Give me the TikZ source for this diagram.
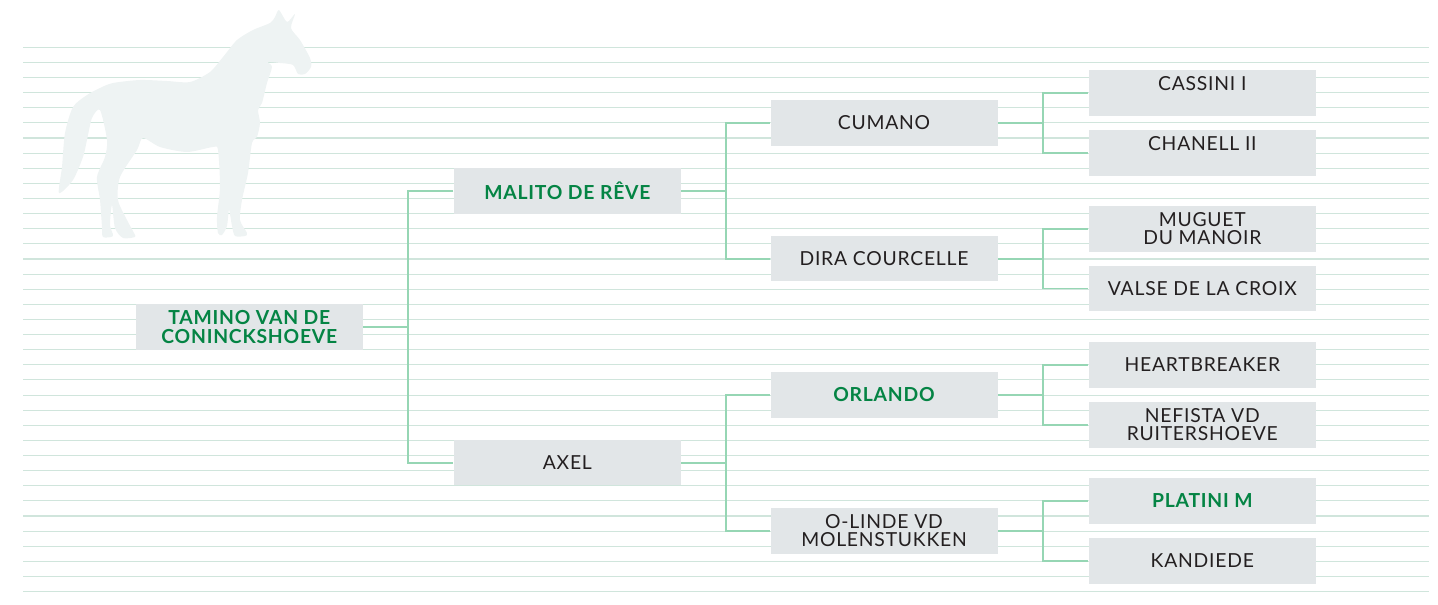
\documentclass[tikz,border=0pt]{standalone}
\usepackage{fontspec}
\setmainfont{Lato}[LetterSpace=4]

\definecolor{ruledgreen}{RGB}{208,229,220}
\definecolor{linkgreen}{RGB}{150,214,180}
\definecolor{boxgrey}{RGB}{226,230,232}
\definecolor{namegreen}{RGB}{4,132,68}
\definecolor{namedark}{RGB}{35,31,32}
\definecolor{horsegrey}{RGB}{238,243,243}

\tikzset{every picture/.style={line width=0.75pt}}
\tikzset{
  namebox/.style={fill=boxgrey, minimum width=170.25pt, minimum height=34.1pt, inner sep=0pt,
    align=center, text=namedark, font=\fontsize{14.5}{13.8}\selectfont},
  winner/.style={namebox, text=namegreen, font=\fontsize{14.5}{14.8}\selectfont\bfseries},
  connector/.style={draw=linkgreen, line width=1.25pt},
  ruled/.style={draw=ruledgreen, line width=0.8pt},
}

\begin{document}
\begin{tikzpicture}[x=0.75pt,y=0.75pt,yscale=-1,xscale=1]
\useasboundingbox (0,0) rectangle (1438,605);

%Ruled background
\foreach \k in {0,...,36}
  \draw [ruled] (23,47.3+15.12*\k) -- (1429,47.3+15.12*\k) ;

%Horse silhouette
\fill [horsegrey] plot [smooth cycle, tension=0.45] coordinates {
  (279,10) (287,22) (295,14) (291,28) (300,40) (310,58) (311,67) (305,74) (298,74)
  (293,65) (280,63) (268,62) (272,67) (267,83) (262,103) (258,110) (260,123)
  (257,137) (252,143) (248,173) (242,200) (240,220) (247,233) (245,236) (235,236)
  (232,226) (229,210) (227,226) (222,235) (218,233) (217,217) (220,187) (218,150)
  (213,147) (187,152) (160,147) (143,138) (137,150) (120,177) (118,200) (127,220)
  (134,233) (135,237) (123,238) (115,228) (112,205) (110,225) (113,236) (103,237)
  (102,227) (100,200) (97,177) (105,157) (107,140) (100,110) (92,118) (87,140)
  (83,157) (73,180) (59,193) (62,167) (65,133) (73,107) (87,95) (100,88) (113,83)
  (140,80) (167,81) (190,82) (210,72) (223,57) (237,40) (253,30) (270,23) (275,17)
};

% Name boxes
\node [winner] (tamino) at (249.3,327) {TAMINO VAN DE\\CONINCKSHOEVE};

\node [winner] (malito) at (567.4,190.8) {MALITO DE RÊVE};
\node [namebox] (axel) at (567.4,462.7) {AXEL};

\node [namebox] (cumano) at (884,122.8) {CUMANO};
\node [namebox] (dira) at (884,258.7) {DIRA COURCELLE};
\node [winner] (orlando) at (884,394.8) {ORLANDO};
\node [namebox] (olinde) at (884,530.8) {O-LINDE VD\\MOLENSTUKKEN};

\node [namebox] (cassini) at (1202.3,92.8) {CASSINI I\\\mbox{}};
\node [namebox] (chanell) at (1202.3,152.8) {CHANELL II\\\mbox{}};
\node [namebox] (muguet) at (1202.3,228.8) {MUGUET\\DU MANOIR};
\node [namebox] (valse) at (1202.3,288.5) {VALSE DE LA CROIX};
\node [namebox] (heart) at (1202.3,364.8) {HEARTBREAKER};
\node [namebox] (nefista) at (1202.3,424.8) {NEFISTA VD\\RUITERSHOEVE};
\node [winner] (platini) at (1202.3,500.8) {PLATINI M};
\node [namebox] (kandiede) at (1202.3,561) {KANDIEDE};

% Junctions
\coordinate (j0) at (408.3,327);
\coordinate (j1a) at (725.8,190.8);
\coordinate (j1b) at (725.8,462.7);
\coordinate (j2a) at (1043.3,122.8);
\coordinate (j2b) at (1043.3,258.7);
\coordinate (j2c) at (1043.3,394.8);
\coordinate (j2d) at (1043.3,530.8);

% Connectors
\draw [connector] (tamino.east) -- (j0) ;
\draw [connector] (malito.west) -| (j0) |- (axel.west) ;
\draw [connector] (malito.east) -- (j1a) ;
\draw [connector] (cumano.west) -| (j1a) |- (dira.west) ;
\draw [connector] (axel.east) -- (j1b) ;
\draw [connector] (orlando.west) -| (j1b) |- (olinde.west) ;
\draw [connector] (cumano.east) -- (j2a) ;
\draw [connector] (cassini.west) -| (j2a) |- (chanell.west) ;
\draw [connector] (dira.east) -- (j2b) ;
\draw [connector] (muguet.west) -| (j2b) |- (valse.west) ;
\draw [connector] (orlando.east) -- (j2c) ;
\draw [connector] (heart.west) -| (j2c) |- (nefista.west) ;
\draw [connector] (olinde.east) -- (j2d) ;
\draw [connector] (platini.west) -| (j2d) |- (kandiede.west) ;

\end{tikzpicture}
\end{document}
